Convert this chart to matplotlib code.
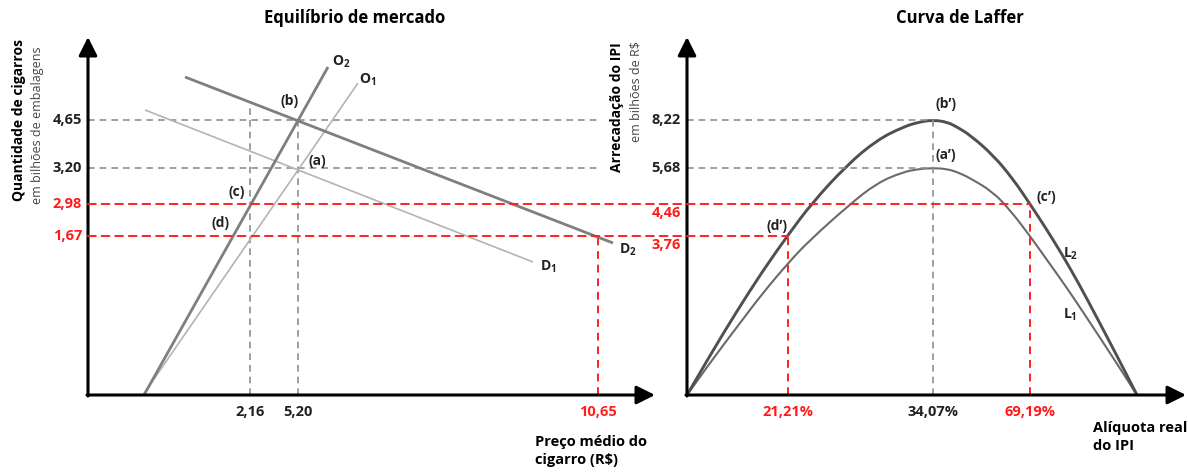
import matplotlib
matplotlib.use("Agg")
import matplotlib.pyplot as plt
from matplotlib.patches import ConnectionPatch, PathPatch
from matplotlib.path import Path

plt.rcParams['font.family'] = ['Open Sans', 'DejaVu Sans']
plt.rcParams['mathtext.fontset'] = 'custom'
plt.rcParams['mathtext.rm'] = 'Open Sans'
plt.rcParams['mathtext.bf'] = 'Open Sans:bold'

W, H = 1188, 473

# ---- schematic diagram units (origin = axis corner) ----
# left panel: market equilibrium
price_labels = ['2,16', '5,20', '10,65']
price_pos = [162, 210, 510]
qty_labels = ['4,65', '3,20', '2,98', '1,67']
qty_pos = [275, 227, 191, 159]
qty_colors = ['#222222', '#222222', '#ff1a1a', '#ff1a1a']

supply_o1 = ([55, 270], [0, 312])
supply_o2 = ([56, 240], [0, 328])
demand_d1 = ([57, 445], [285, 133])
demand_d2 = ([97, 525], [318, 152])

# right panel: Laffer curve
rate_labels = ['21,21%', '34,07%', '69,19%']
rate_pos = [101, 246, 343]
rate_colors = ['#ff1a1a', '#222222', '#ff1a1a']
rev_labels = ['8,22', '5,68', '4,46', '3,76']
rev_pos = [275, 227, 191, 159]
rev_colors = ['#222222', '#222222', '#ff1a1a', '#ff1a1a']

l2_x = [0, 25, 50, 75, 101, 125, 160, 190, 216, 232, 246, 260, 270, 283, 306,
        326, 343, 360, 376, 392, 408, 429, 450]
l2_y = [0, 43, 84, 123, 160, 192, 230, 255, 268, 273, 275, 273, 268, 260, 240,
        216, 191, 165, 139, 111, 81, 41, 0]
l1_x = [0, 25, 50, 75, 102, 123, 162, 190, 216, 232, 246, 260, 270, 283, 306,
        323, 343, 360, 380, 400, 425, 450]
l1_y = [0, 35, 68, 101, 133, 155, 190, 212, 223, 226, 227, 226, 223, 217, 203,
        185, 159, 135, 107, 77, 39, 0]

fig = plt.figure(figsize=(W / 100, H / 100), dpi=100)
ax1 = fig.add_axes([88 / W, (H - 395) / H, (655 - 88) / W, (395 - 38) / H])
ax2 = fig.add_axes([687 / W, (H - 395) / H, (1188 - 687) / W, (395 - 38) / H])
ax1.set_xlim(0, 567)
ax1.set_ylim(0, 357)
ax2.set_xlim(0, 501)
ax2.set_ylim(0, 357)
for ax in (ax1, ax2):
    ax.axis('off')

GRAY = '#8f8f8f'
RED = '#ff2020'
dash_g = dict(color=GRAY, lw=1.2, ls=(0, (4, 3)))
dash_r = dict(color=RED, lw=1.4, ls=(0, (4, 3)))


def axis_arrows(ax, xmax, ymax):
    kw = dict(arrowstyle='-|>,head_length=0.8,head_width=0.4', lw=2.2,
              color='black', mutation_scale=14, shrinkA=0, shrinkB=0)
    ax.annotate('', xy=(xmax, 0), xytext=(-1, 0), arrowprops=kw,
                annotation_clip=False)
    ax.annotate('', xy=(0, ymax), xytext=(0, -1), arrowprops=kw,
                annotation_clip=False)


def smooth_curve(ax, xs, ys, **kw):
    # quadratic bezier through midpoints -> smooth rendering of the points
    pts = list(zip(xs, ys))
    verts = [pts[0]]
    codes = [Path.MOVETO]
    for i in range(1, len(pts) - 1):
        mid = ((pts[i][0] + pts[i + 1][0]) / 2, (pts[i][1] + pts[i + 1][1]) / 2)
        verts += [pts[i], mid]
        codes += [Path.CURVE3, Path.CURVE3]
    verts.append(pts[-1])
    codes.append(Path.LINETO)
    ax.add_patch(PathPatch(Path(verts, codes), fill=False, **kw))


# ---------------- left panel ----------------
ax1.plot([0, 509], [qty_pos[0]] * 2, **dash_g)
ax1.plot([0, 509], [qty_pos[1]] * 2, **dash_g)
ax1.plot([price_pos[0]] * 2, [0, 290], **dash_g)
ax1.plot([price_pos[1]] * 2, [0, qty_pos[0]], **dash_g)
ax1.plot([price_pos[2]] * 2, [0, qty_pos[3]], **dash_r)

ax1.plot(*demand_d1, color='#b4b4b4', lw=1.2, solid_capstyle='butt')
ax1.plot(*supply_o1, color='#b4b4b4', lw=1.2, solid_capstyle='butt')
ax1.plot(*demand_d2, color='#7f7f7f', lw=2.0, solid_capstyle='butt')
ax1.plot(*supply_o2, color='#7f7f7f', lw=2.0, solid_capstyle='butt')

axis_arrows(ax1, 567, 358)

FS = 10.5
for lab, p in zip(price_labels, price_pos):
    ax1.text(p, -17, lab, ha='center', va='center', fontsize=FS,
             fontweight='bold', color=RED if lab == '10,65' else '#222222')
for lab, p, c in zip(qty_labels, qty_pos, qty_colors):
    ax1.text(-6, p, lab, ha='right', va='center', fontsize=FS,
             fontweight='bold', color=c)

pt_kw = dict(ha='center', va='center', fontsize=10, fontweight='bold',
             color='#222222')
ax1.text(202, 294, '(b)', **pt_kw)
ax1.text(229, 234, '(a)', **pt_kw)
ax1.text(149, 203, '(c)', **pt_kw)
ax1.text(133, 172, '(d)', **pt_kw)
ax1.text(253, 333, r'$\mathbf{O}_\mathbf{2}$', **pt_kw)
ax1.text(280, 315, r'$\mathbf{O}_\mathbf{1}$', **pt_kw)
ax1.text(540, 145, r'$\mathbf{D}_\mathbf{2}$', **pt_kw)
ax1.text(460, 128, r'$\mathbf{D}_\mathbf{1}$', **pt_kw)

fig.text(355 / W, 1 - 18 / H, 'Equilíbrio de mercado', ha='center',
         va='center', fontsize=12, fontweight='bold')
fig.text(19 / W, 1 - 120 / H, 'Quantidade de cigarros', rotation=90,
         ha='center', va='center', fontsize=10, fontweight='bold')
fig.text(38 / W, 1 - 125 / H, 'em bilhões de embalagens', rotation=90,
         ha='center', va='center', fontsize=9, color='#444444')
fig.text(535 / W, 1 - 451 / H, 'Preço médio do\ncigarro (R$)', ha='left',
         va='center', fontsize=FS, fontweight='bold', linespacing=1.4)

# ---------------- right panel ----------------
ax2.plot([0, rate_pos[1]], [rev_pos[0]] * 2, **dash_g)
ax2.plot([0, rate_pos[1]], [rev_pos[1]] * 2, **dash_g)
ax2.plot([rate_pos[1]] * 2, [0, rev_pos[0]], **dash_g)
ax2.plot([rate_pos[0]] * 2, [0, rev_pos[3]], **dash_r)
ax2.plot([rate_pos[2]] * 2, [0, rev_pos[2]], **dash_r)

smooth_curve(ax2, l1_x, l1_y, edgecolor='#6a6a6a', lw=1.5)
smooth_curve(ax2, l2_x, l2_y, edgecolor='#505050', lw=2.1)

axis_arrows(ax2, 499, 358)

# red guide lines spanning both panels
for q_left, r_right, x_right in [(qty_pos[2], rev_pos[2], rate_pos[2]),
                                 (qty_pos[3], rev_pos[3], rate_pos[0])]:
    con = ConnectionPatch(xyA=(0, q_left), coordsA=ax1.transData,
                          xyB=(x_right, r_right), coordsB=ax2.transData,
                          color=RED, lw=1.4, linestyle=(0, (4, 3)))
    fig.add_artist(con)

for lab, p, c in zip(rate_labels, rate_pos, rate_colors):
    ax2.text(p, -17, lab, ha='center', va='center', fontsize=FS,
             fontweight='bold', color=c)
rev_offsets = [0, 0, -9, -9]
for lab, p, c, off in zip(rev_labels, rev_pos, rev_colors, rev_offsets):
    ax2.text(-6, p + off, lab, ha='right', va='center', fontsize=FS,
             fontweight='bold', color=c)

ax2.text(259, 291, '(b\u2019)', **pt_kw)
ax2.text(259, 240, '(a\u2019)', **pt_kw)
ax2.text(90, 169, '(d\u2019)', **pt_kw)
ax2.text(359, 198, '(c\u2019)', **pt_kw)
ax2.text(384, 141, r'$\mathbf{L}_\mathbf{2}$', **pt_kw)
ax2.text(383, 80, r'$\mathbf{L}_\mathbf{1}$', **pt_kw)

fig.text(960 / W, 1 - 18 / H, 'Curva de Laffer', ha='center', va='center',
         fontsize=12, fontweight='bold')
fig.text(617 / W, 1 - 107 / H, 'Arrecadação do IPI', rotation=90,
         ha='center', va='center', fontsize=10, fontweight='bold')
fig.text(636 / W, 1 - 92 / H, 'em bilhões de R$', rotation=90,
         ha='center', va='center', fontsize=9, color='#444444')
fig.text(1093 / W, 1 - 437 / H, 'Alíquota real\ndo IPI', ha='left',
         va='center', fontsize=FS, fontweight='bold', linespacing=1.4)

fig.savefig('out.png', dpi=100)
